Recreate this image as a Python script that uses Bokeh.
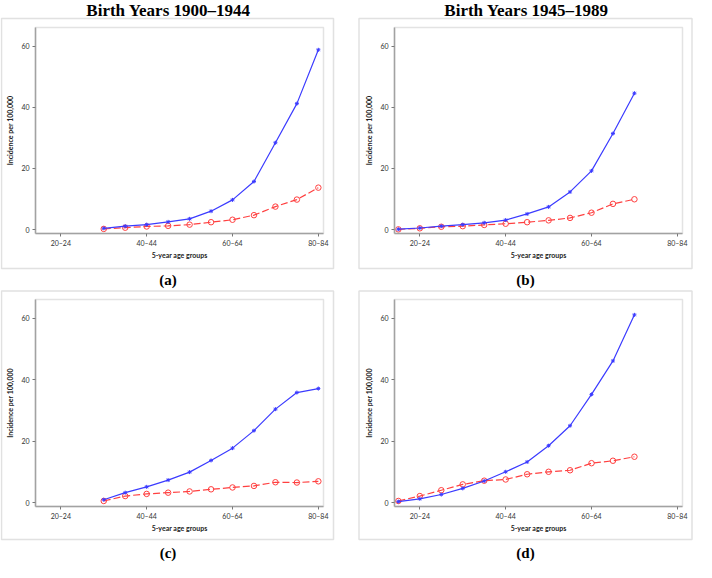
import math
from bokeh.plotting import figure
from bokeh.models import Range1d, FixedTicker, BoxAnnotation, Label
from bokeh.layouts import column, row
from bokeh.embed import file_html
from bokeh.resources import INLINE

# ---------------- data ----------------
TICK_AGES = [20, 40, 60, 80]
TICK_LABELS = ["20–24", "40–44", "60–64", "80–84"]
Y_TICKS = [0, 20, 40, 60]

ages_1900 = [30, 35, 40, 45, 50, 55, 60, 65, 70, 75, 80]
ages_1945 = [15, 20, 25, 30, 35, 40, 45, 50, 55, 60, 65, 70]

a_blue = [0.4, 1.1, 1.6, 2.5, 3.5, 6.0, 9.7, 15.7, 28.4, 41.2, 58.8]
a_red = [0.2, 0.6, 1.0, 1.2, 1.6, 2.4, 3.2, 4.7, 7.5, 9.8, 13.7]
b_blue = [0.1, 0.5, 1.1, 1.6, 2.2, 3.1, 5.1, 7.4, 12.3, 19.2, 31.4, 44.6]
b_red = [0.05, 0.4, 0.9, 1.1, 1.5, 1.9, 2.4, 3.0, 3.8, 5.5, 8.4, 9.9]
c_blue = [0.9, 3.2, 5.1, 7.3, 9.9, 13.7, 17.7, 23.4, 30.4, 35.8, 37.1]
c_red = [0.5, 2.1, 2.8, 3.2, 3.6, 4.3, 4.9, 5.4, 6.6, 6.5, 6.9]
d_blue = [0.3, 1.2, 2.6, 4.6, 7.0, 10.0, 13.2, 18.5, 25.0, 35.2, 46.1, 61.1]
d_red = [0.5, 2.1, 4.0, 5.9, 7.1, 7.5, 9.2, 10.0, 10.5, 12.8, 13.6, 14.9]

TITLES = ["Birth Years 1900–1944", "Birth Years 1945–1989"]
TAGS = ["(a)", "(b)", "(c)", "(d)"]
X_LABEL = "5-year age groups"
Y_LABEL = "Incidence per 100,000"

# inner plotting area (data units)
IX0, IX1 = 14.1, 81.2
IY0, IY1 = -1.3, 66.1

BLUE = "#3b3bff"
RED = "#ff4040"
GRAY = "#a3a3a3"
BOX_GRAY = "#9c9c9c"
SANS = "Lato"
SERIF = "Liberation Serif"


def panel(W, H, inner, box, ages, blue, red, tag, tag_pos, title=None, title_pos=None):
    """inner/box: (left, right, top, bottom) in canvas pixels; positions are decoration only."""
    il, ir, it, ib = inner
    sx = (IX1 - IX0) / (ir - il)
    sy = (IY1 - IY0) / (ib - it)
    xr = Range1d(IX0 - il * sx, IX1 + (W - ir) * sx)
    yr = Range1d(IY0 - (H - ib) * sy, IY1 + it * sy)

    def dx(px):
        return IX0 + (px - il) * sx

    def dy(py):
        return IY0 + (ib - py) * sy

    p = figure(width=W, height=H, output_backend="svg", toolbar_location=None,
               x_range=xr, y_range=yr, min_border=0,
               background_fill_color="white", border_fill_color="white")
    p.grid.visible = False
    p.outline_line_color = None

    # axes placed at the inner area's edges
    for ax in (p.xaxis[0], p.yaxis[0]):
        ax.axis_line_color = GRAY
        ax.axis_line_width = 1.5
        ax.major_tick_line_color = "#777777"
        ax.major_tick_in = 0
        ax.major_tick_out = 3
        ax.minor_tick_line_color = None
        ax.major_label_text_font = SANS
        ax.major_label_text_font_size = "7px"
        ax.major_label_text_color = "#333333"
    p.xaxis.fixed_location = IY0
    p.xaxis.bounds = (IX0, IX1)
    p.xaxis.ticker = FixedTicker(ticks=TICK_AGES)
    p.xaxis.major_label_overrides = dict(zip(TICK_AGES, TICK_LABELS))
    p.xaxis.major_label_standoff = 2
    p.yaxis.fixed_location = IX0
    p.yaxis.bounds = (IY0, IY1)
    p.yaxis.ticker = FixedTicker(ticks=Y_TICKS)
    p.yaxis.major_label_standoff = 3

    # axis titles
    p.add_layout(Label(x=(IX0 + IX1) / 2, y=dy(ib + 21.5), text=X_LABEL, text_align="center",
                       text_baseline="middle", text_font=SANS, text_font_style="bold",
                       text_font_size="7px", text_color="#222222"))
    p.add_layout(Label(x=dx(il - 25.5), y=(IY0 + IY1) / 2, text=Y_LABEL, angle=math.pi / 2,
                       text_align="center", text_baseline="middle", text_font=SANS,
                       text_font_style="bold", text_font_size="7px", text_color="#222222"))

    # inner frame and outer panel box
    p.add_layout(BoxAnnotation(left=IX0, right=IX1, bottom=IY0, top=IY1,
                               fill_color=None, line_color=GRAY, line_width=1.5))
    bl, br, bt, bb = box
    p.add_layout(BoxAnnotation(left=dx(bl), right=dx(br), top=dy(bt), bottom=dy(bb),
                               fill_color=None, line_color=BOX_GRAY, line_width=1.5))

    # series
    p.line(ages, red, line_color=RED, line_width=1.2, line_dash="7 3")
    p.scatter(ages, red, marker="circle", size=5.5, fill_color=None, line_color=RED, line_width=1)
    p.line(ages, blue, line_color=BLUE, line_width=1.2)
    p.scatter(ages, blue, marker="asterisk", size=4, line_color=BLUE, line_width=1)

    p.add_layout(Label(x=dx(tag_pos[0]), y=dy(tag_pos[1]), text=tag, text_align="center",
                       text_baseline="middle", text_font=SERIF, text_font_style="bold",
                       text_font_size="15px", text_color="black"))
    if title:
        p.add_layout(Label(x=dx(title_pos[0]), y=dy(title_pos[1]), text=title,
                           text_align="center", text_baseline="middle", text_font=SERIF,
                           text_font_style="bold", text_font_size="17px", text_color="black"))
    return p


pa = panel(348, 289, (35, 323, 27, 233), (1, 333, 18, 268), ages_1900, a_blue, a_red,
           TAGS[0], (167.5, 279), TITLES[0], (168, 9.5))
pb = panel(348, 289, (46, 334, 27, 233), (10.5, 343.5, 18, 268), ages_1945, b_blue, b_red,
           TAGS[1], (177, 279), TITLES[1], (178, 9.5))
pc = panel(348, 273, (35, 323, 10, 217), (1, 333, 1.5, 250), ages_1900, c_blue, c_red,
           TAGS[2], (167.5, 263))
pd = panel(348, 273, (46, 334, 10, 217), (10.5, 343.5, 1.5, 250), ages_1945, d_blue, d_red,
           TAGS[3], (177, 263))

layout = column(row(pa, pb), row(pc, pd))

with open("out.html", "w") as f:
    f.write(file_html(layout, INLINE))
